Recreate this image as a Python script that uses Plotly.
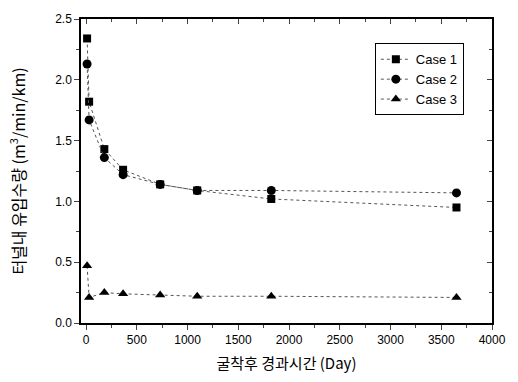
import plotly.graph_objects as go

days = [10, 30, 180, 365, 730, 1095, 1825, 3650]
case1 = [2.34, 1.82, 1.43, 1.26, 1.14, 1.09, 1.02, 0.95]
case2 = [2.13, 1.67, 1.36, 1.22, 1.14, 1.09, 1.09, 1.07]
case3 = [0.47, 0.21, 0.25, 0.24, 0.23, 0.22, 0.22, 0.21]

names = ["Case 1", "Case 2", "Case 3"]
symbols = ["square", "circle", "triangle-up"]
sizes = [8, 9, 9]

fig = go.Figure()
for name, ys, sym, sz in zip(names, [case1, case2, case3], symbols, sizes):
    fig.add_trace(go.Scatter(
        x=days, y=ys, name=name, mode="lines+markers",
        line=dict(color="#555555", width=1, dash="dot"),
        marker=dict(symbol=sym, size=sz, color="black"),
    ))

font_main = "Arial, Liberation Sans, Noto Sans CJK KR"
fig.update_layout(
    width=518, height=382,
    margin=dict(l=81, r=21, t=14, b=58),
    paper_bgcolor="white", plot_bgcolor="white",
    font=dict(family=font_main, color="black", size=12),
    showlegend=True,
    legend=dict(x=0.715, y=0.92, xanchor="left", yanchor="top",
                bordercolor="black", borderwidth=1, bgcolor="white",
                font=dict(size=13), tracegroupgap=0, itemwidth=30),
    xaxis=dict(range=[-50, 4000], tickmode="linear", tick0=0, dtick=500,
               ticks="outside", ticklen=5, tickwidth=1, showgrid=False,
               zeroline=False, showline=True, linecolor="black", linewidth=1.5,
               minor=dict(ticks="outside", ticklen=3, dtick=250, tick0=0),
               title=dict(text="굴착후 경과시간 (Day)", font=dict(size=15, family="Noto Sans CJK KR"), standoff=12)),
    yaxis=dict(range=[0, 2.5], tickmode="linear", tick0=0, dtick=0.5,
               tickformat=".1f",
               ticks="outside", ticklen=5, tickwidth=1, showgrid=False,
               zeroline=False, showline=True, linecolor="black", linewidth=1.5,
               minor=dict(ticks="outside", ticklen=3, dtick=0.25, tick0=0),
               title=dict(text="터널내 유입수량 (m<sup>3</sup>/min/km)", font=dict(size=16, family="Noto Sans CJK KR"), standoff=26)),
    xaxis2=dict(range=[-50, 4000], overlaying="x", side="top", tickmode="linear",
                tick0=0, dtick=500, ticks="inside", ticklen=5, showticklabels=False,
                showgrid=False, zeroline=False, showline=True, linecolor="black", linewidth=1.5,
                minor=dict(ticks="inside", ticklen=3, dtick=250, tick0=0)),
    yaxis2=dict(range=[0, 2.5], overlaying="y", side="right", tickmode="linear",
                tick0=0, dtick=0.5, ticks="inside", ticklen=5, showticklabels=False,
                showgrid=False, zeroline=False, showline=True, linecolor="black", linewidth=1.5,
                minor=dict(ticks="inside", ticklen=3, dtick=0.25, tick0=0)),
)
fig.add_trace(go.Scatter(x=[None], y=[None], xaxis="x2", yaxis="y2", showlegend=False, hoverinfo="skip"))

fig.write_html("out.html")
